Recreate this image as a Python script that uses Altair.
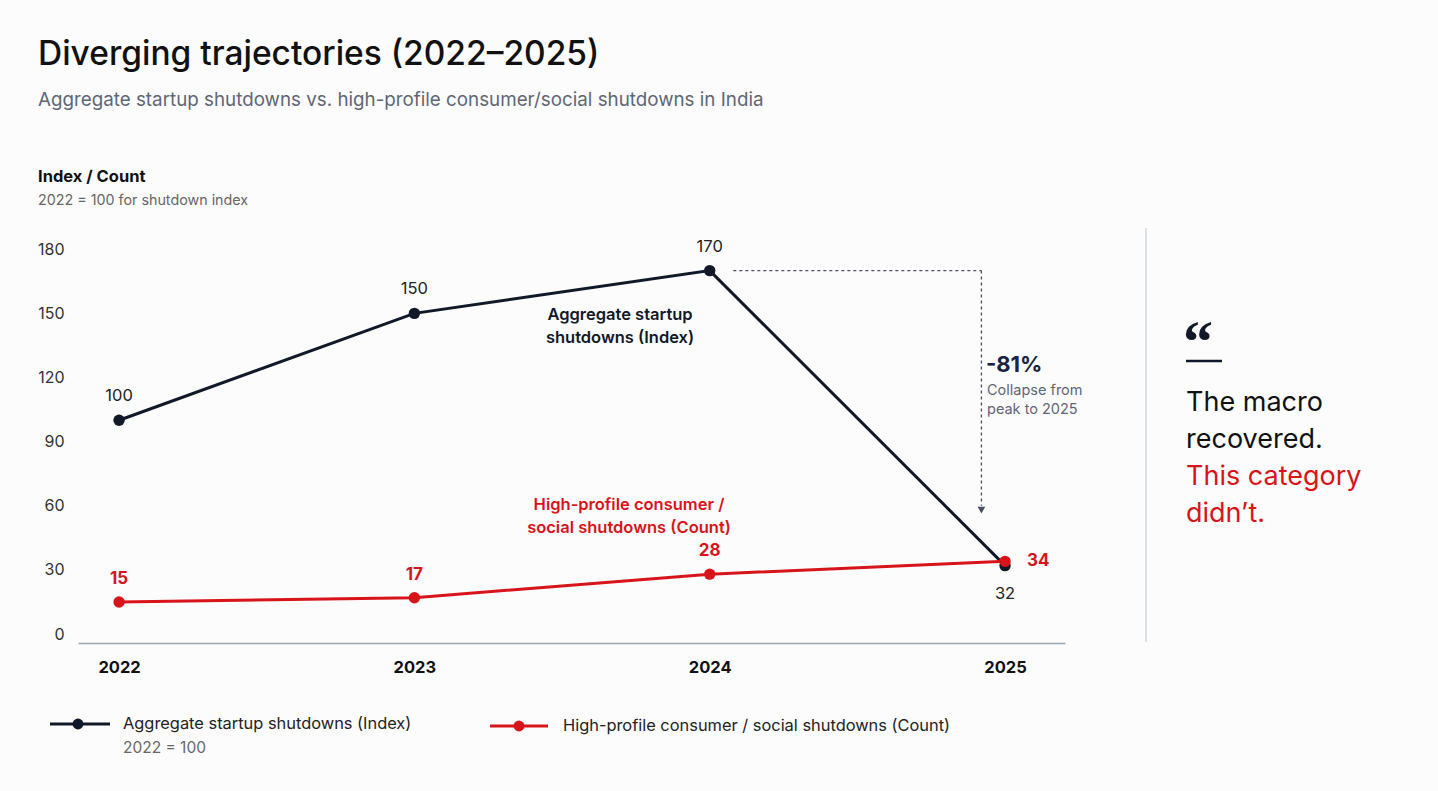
import altair as alt
import pandas as pd

# ---- data ----
years = [2022, 2023, 2024, 2025]
aggregate_index = [100, 150, 170, 32]
consumer_count = [15, 17, 28, 34]
y_ticks = [0, 30, 60, 90, 120, 150, 180]

NAVY = "#111827"
RED = "#d7141a"
GRAY = "#5f6675"
FONT = "Inter"

agg = pd.DataFrame({"year": years, "value": aggregate_index})
cnt = pd.DataFrame({"year": years, "value": consumer_count})

xs = alt.Scale(domain=[2021.861, 2025.203], nice=False, zero=False)
ys = alt.Scale(domain=[-4.2, 189], nice=False, zero=False)

X = alt.X("year:Q", scale=xs, axis=alt.Axis(
    values=years, format="d", title=None, grid=False, ticks=False,
    domainColor="#9aa0a8", domainWidth=1.5, labelFontWeight="bold",
    labelFontSize=16.5, labelColor="#111", labelPadding=16, labelFont=FONT))
Y = alt.Y("value:Q", scale=ys, axis=alt.Axis(
    values=y_ticks, title=None, grid=False, ticks=False, domain=False,
    labelFontSize=16, labelColor="#333", labelPadding=14, labelFont=FONT))

agg_line = alt.Chart(agg).mark_line(color=NAVY, strokeWidth=3).encode(x=X, y=Y)
agg_pts = alt.Chart(agg).mark_circle(color=NAVY, size=130, opacity=1).encode(x="year:Q", y="value:Q")
cnt_line = alt.Chart(cnt).mark_line(color=RED, strokeWidth=3).encode(x="year:Q", y="value:Q")
cnt_pts = alt.Chart(cnt).mark_circle(color=RED, size=130, opacity=1).encode(x="year:Q", y="value:Q")

agg_lab_top = alt.Chart(agg).transform_filter("datum.year < 2025").mark_text(
    dy=-24, fontSize=16.5, color="#222", font=FONT).encode(x="year:Q", y="value:Q", text="value:Q")
agg_lab_bot = alt.Chart(agg).transform_filter("datum.year == 2025").mark_text(
    dy=28, fontSize=16.5, color="#222", font=FONT).encode(x="year:Q", y="value:Q", text="value:Q")
cnt_lab_top = alt.Chart(cnt).transform_filter("datum.year < 2025").mark_text(
    dy=-23, fontSize=17, fontWeight="bold", color=RED, font=FONT).encode(x="year:Q", y="value:Q", text="value:Q")
cnt_lab_right = alt.Chart(cnt).transform_filter("datum.year == 2025").mark_text(
    dx=22, align="left", fontSize=17, fontWeight="bold", color=RED, font=FONT).encode(x="year:Q", y="value:Q", text="value:Q")

# peak-to-2025 annotation (data coordinates from the series)
peak_year = years[aggregate_index.index(max(aggregate_index))]
ann_x = 2024.92
hline = pd.DataFrame({"x": [peak_year + 0.08], "x2": [ann_x], "y": [max(aggregate_index)]})
vline = pd.DataFrame({"x": [ann_x], "y": [max(aggregate_index)], "y2": [60]})
ann_h = alt.Chart(hline).mark_rule(color="#4a5060", strokeWidth=1.3, strokeDash=[3, 3]).encode(
    x="x:Q", x2="x2:Q", y="y:Q")
ann_v = alt.Chart(vline).mark_rule(color="#4a5060", strokeWidth=1.3, strokeDash=[3, 3]).encode(
    x="x:Q", y="y:Q", y2="y2:Q")
arrow = alt.Chart(pd.DataFrame({"x": [ann_x], "y": [58]})).mark_point(
    shape="triangle-down", filled=True, color="#4a5060", size=60, opacity=1).encode(x="x:Q", y="y:Q")


def txt(text, x, y, size, color, weight="normal", align="left", font=FONT):
    return alt.Chart(pd.DataFrame({"t": [text]})).mark_text(
        align=align, baseline="middle", fontSize=size, color=color,
        fontWeight=weight, font=font).encode(
        x=alt.value(x), y=alt.value(y), text="t:N")


def hrule(x1, x2, y, color, width, dash=None):
    kw = dict(color=color, strokeWidth=width)
    if dash:
        kw["strokeDash"] = dash
    return alt.Chart(pd.DataFrame({"a": [0]})).mark_rule(**kw).encode(
        x=alt.value(x1), x2=alt.value(x2), y=alt.value(y))


texts = [
    txt("Diverging trajectories (2022–2025)", -40, -175, 33.5, "#111", weight=500),
    txt("Aggregate startup shutdowns vs. high-profile consumer/social shutdowns in India", -40, -130, 18.8, GRAY),
    txt("Index / Count", -40, -53, 16.5, "#111", weight="bold"),
    txt("2022 = 100 for shutdown index", -40, -29, 14.3, "#666"),
    # inline series labels
    txt("Aggregate startup", 542, 85, 16.5, NAVY, weight=600, align="center"),
    txt("shutdowns (Index)", 542, 108, 16.5, NAVY, weight=600, align="center"),
    txt("High-profile consumer /", 551, 275, 16.5, RED, weight=600, align="center"),
    txt("social shutdowns (Count)", 551, 298, 16.5, RED, weight=600, align="center"),
    # annotation
    txt("-81%", 908, 135, 22, "#1a2340", weight="bold"),
    txt("Collapse from", 909, 161, 14.5, GRAY),
    txt("peak to 2025", 909, 180, 14.5, GRAY),
    # side quote
    txt("“", 1105, 114, 60, NAVY, weight="bold", font="Liberation Serif"),
    txt("The macro", 1108, 173, 27, "#111"),
    txt("recovered.", 1108, 210, 27, "#111"),
    txt("This category", 1108, 247, 27, RED),
    txt("didn’t.", 1108, 284, 27, RED),
    # legend
    txt("Aggregate startup shutdowns (Index)", 45, 494, 16.4, "#222"),
    txt("2022 = 100", 45, 518, 15.5, "#666"),
    txt("High-profile consumer / social shutdowns (Count)", 485, 496, 16.4, "#222"),
]

divider = alt.Chart(pd.DataFrame({"a": [0]})).mark_rule(color="#d5d8dd", strokeWidth=1.5).encode(
    x=alt.value(1068), y=alt.value(-2), y2=alt.value(412))
quote_bar = hrule(1108, 1144, 131, NAVY, 2.5)
leg1 = hrule(-28, 32, 494, NAVY, 3)
leg2 = hrule(412, 470, 496, RED, 3)
leg1_dot = alt.Chart(pd.DataFrame({"a": [0]})).mark_circle(color=NAVY, size=120, opacity=1).encode(
    x=alt.value(0), y=alt.value(494))
leg2_dot = alt.Chart(pd.DataFrame({"a": [0]})).mark_circle(color=RED, size=120, opacity=1).encode(
    x=alt.value(441), y=alt.value(496))

chart = alt.layer(
    agg_line, cnt_line, ann_h, ann_v, arrow, agg_pts, cnt_pts,
    agg_lab_top, agg_lab_bot, cnt_lab_top, cnt_lab_right,
    divider, quote_bar, leg1, leg2, leg1_dot, leg2_dot, *texts
).properties(
    width=987, height=413,
    padding={"left": 78, "top": 230, "right": 373, "bottom": 148},
    autosize=alt.AutoSizeParams(type="none"),
    background="#fcfcfc",
).configure_view(stroke=None)

chart.save("out.html", embed_options={"renderer": "svg", "actions": False})
